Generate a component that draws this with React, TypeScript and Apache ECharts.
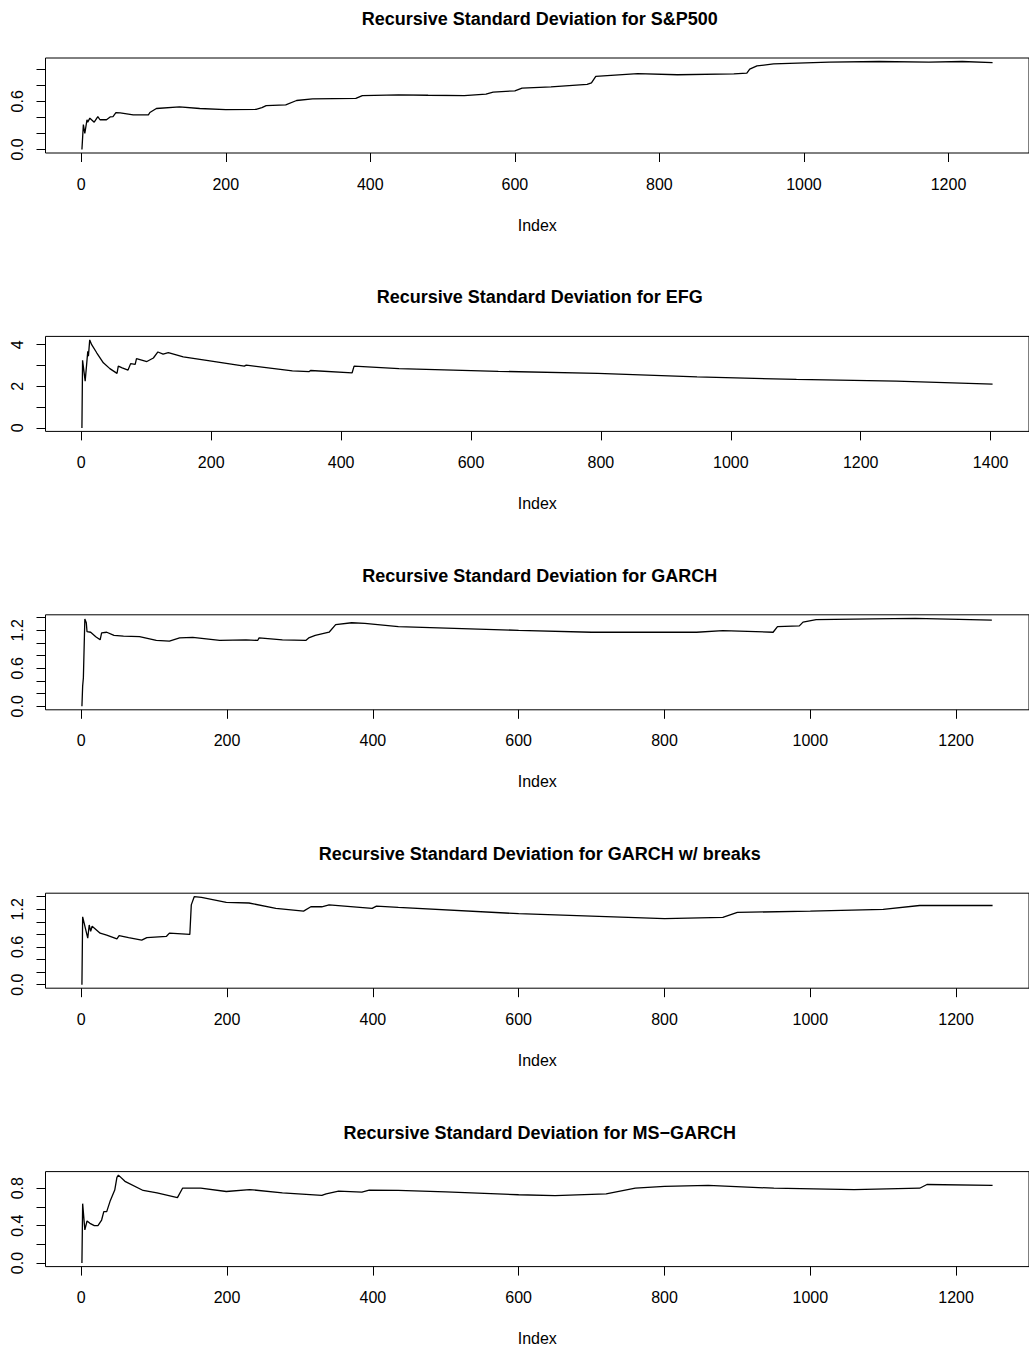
import React, { useEffect, useRef } from "react";
import * as echarts from "echarts";

// ---------- data ----------
const titles = [
  "Recursive Standard Deviation for S&P500",
  "Recursive Standard Deviation for EFG",
  "Recursive Standard Deviation for GARCH",
  "Recursive Standard Deviation for GARCH w/ breaks",
  "Recursive Standard Deviation for MS\u2212GARCH",
];

const nObs = [1261, 1403, 1250, 1250, 1250];

const xTicksA = [0, 200, 400, 600, 800, 1000, 1200];
const xTicksB = [0, 200, 400, 600, 800, 1000, 1200, 1400];

const yTicks1 = [0, 0.2, 0.4, 0.6, 0.8, 1.0];
const yLabels1 = [0, 0.6];
const yTicks2 = [0, 1, 2, 3, 4];
const yLabels2 = [0, 2, 4];
const yTicks3 = [0, 0.2, 0.4, 0.6, 0.8, 1.0, 1.2, 1.4];
const yLabels3 = [0, 0.6, 1.2];
const yTicks4 = [0, 0.2, 0.4, 0.6, 0.8, 1.0, 1.2, 1.4];
const yLabels4 = [0, 0.6, 1.2];
const yTicks5 = [0, 0.2, 0.4, 0.6, 0.8];
const yLabels5 = [0, 0.4, 0.8];

// S&P500
const spIdx = [1, 3, 5, 8, 9, 12, 18, 23, 26, 35, 40, 44, 48, 54, 72, 93, 95, 104, 136, 164, 200, 242, 250, 256, 283, 298, 320, 380, 389, 439, 480, 530, 560, 570, 600, 610, 650, 700, 706, 712, 770, 825, 903, 921, 925, 935, 958, 1035, 1104, 1173, 1219, 1261];
const spVal = [0, 0.31, 0.2, 0.37, 0.34, 0.39, 0.34, 0.41, 0.37, 0.37, 0.405, 0.41, 0.46, 0.455, 0.43, 0.43, 0.46, 0.51, 0.53, 0.51, 0.495, 0.5, 0.52, 0.545, 0.556, 0.61, 0.63, 0.635, 0.67, 0.68, 0.675, 0.67, 0.69, 0.715, 0.73, 0.765, 0.78, 0.81, 0.83, 0.91, 0.945, 0.93, 0.94, 0.95, 1.0, 1.04, 1.066, 1.087, 1.095, 1.087, 1.095, 1.082];

// EFG
const efgIdx = [1, 2, 6, 10, 11, 13, 16, 24, 34, 44, 55, 57, 63, 72, 76, 83, 85, 101, 111, 118, 126, 134, 157, 198, 251, 254, 325, 351, 353, 417, 420, 489, 642, 795, 948, 1101, 1255, 1403];
const efgVal = [0, 3.25, 2.25, 3.68, 3.45, 4.23, 4.0, 3.6, 3.13, 2.85, 2.62, 2.97, 2.89, 2.78, 3.09, 3.05, 3.33, 3.19, 3.36, 3.65, 3.55, 3.62, 3.41, 3.22, 2.97, 3.02, 2.74, 2.71, 2.76, 2.65, 2.97, 2.85, 2.72, 2.62, 2.45, 2.33, 2.25, 2.1];

// GARCH
const gIdx = [1, 2, 3, 5, 7, 8, 13, 20, 26, 28, 35, 45, 58, 80, 103, 121, 135, 153, 190, 226, 242, 244, 276, 308, 312, 321, 340, 349, 371, 389, 435, 600, 700, 844, 880, 949, 955, 985, 990, 1008, 1085, 1144, 1249];
const gVal = [0, 0.32, 0.45, 1.38, 1.32, 1.18, 1.17, 1.1, 1.05, 1.16, 1.17, 1.12, 1.11, 1.1, 1.04, 1.03, 1.08, 1.09, 1.04, 1.05, 1.04, 1.08, 1.05, 1.04, 1.08, 1.12, 1.17, 1.29, 1.32, 1.31, 1.26, 1.2, 1.17, 1.17, 1.195, 1.17, 1.26, 1.27, 1.33, 1.37, 1.38, 1.39, 1.36];

// GARCH w/ breaks
const gbIdx = [1, 2, 9, 11, 13, 15, 26, 35, 49, 52, 65, 83, 90, 117, 121, 149, 151, 155, 165, 199, 230, 267, 305, 315, 330, 340, 399, 405, 435, 600, 800, 880, 900, 1000, 1100, 1150, 1250];
const gbVal = [0, 1.08, 0.74, 0.95, 0.85, 0.93, 0.82, 0.79, 0.73, 0.78, 0.75, 0.71, 0.75, 0.77, 0.82, 0.8, 1.27, 1.4, 1.39, 1.31, 1.3, 1.215, 1.17, 1.24, 1.24, 1.27, 1.215, 1.25, 1.23, 1.13, 1.05, 1.07, 1.15, 1.17, 1.2, 1.26, 1.26];

// MS-GARCH
const msIdx = [1, 2, 5, 8, 12, 18, 23, 28, 31, 35, 40, 46, 49, 51, 60, 85, 104, 132, 139, 164, 199, 231, 276, 330, 336, 353, 385, 395, 435, 500, 600, 650, 720, 760, 800, 860, 950, 1060, 1150, 1160, 1250];
const msVal = [0, 0.635, 0.355, 0.45, 0.425, 0.4, 0.4, 0.46, 0.55, 0.55, 0.67, 0.78, 0.916, 0.94, 0.874, 0.776, 0.75, 0.7, 0.8, 0.8, 0.765, 0.786, 0.75, 0.723, 0.74, 0.77, 0.758, 0.78, 0.776, 0.76, 0.73, 0.72, 0.74, 0.8, 0.82, 0.83, 0.8, 0.785, 0.8, 0.84, 0.83];

const panels = [
  { idx: spIdx, val: spVal, xTicks: xTicksA, yTicks: yTicks1, yLabels: yLabels1, dec: 1 },
  { idx: efgIdx, val: efgVal, xTicks: xTicksB, yTicks: yTicks2, yLabels: yLabels2, dec: 0 },
  { idx: gIdx, val: gVal, xTicks: xTicksA, yTicks: yTicks3, yLabels: yLabels3, dec: 1 },
  { idx: gbIdx, val: gbVal, xTicks: xTicksA, yTicks: yTicks4, yLabels: yLabels4, dec: 1 },
  { idx: msIdx, val: msVal, xTicks: xTicksA, yTicks: yTicks5, yLabels: yLabels5, dec: 1 },
];

const FONT = "'Liberation Sans', Arial, Helvetica, sans-serif";
const GRID_LEFT = 45.5;
const GRID_W = 988.5;
const GRID_TOP0 = 58;
const GRID_STEP = 278.4;
const GRID_H = 95;

function buildOption() {
  const grid: any[] = [];
  const xAxis: any[] = [];
  const yAxis: any[] = [];
  const series: any[] = [];
  const graphic: any[] = [];

  panels.forEach((p, k) => {
    const top = GRID_TOP0 + k * GRID_STEP;
    const n = nObs[k];
    const ymax = Math.max(...p.val);
    const ymin = Math.min(...p.val);
    const yr = ymax - ymin;
    grid.push({
      left: GRID_LEFT,
      top,
      width: GRID_W,
      height: GRID_H,
      show: true,
      borderColor: "#000",
      borderWidth: 1,
      backgroundColor: "transparent",
    });
    xAxis.push({
      type: "value",
      gridIndex: k,
      position: "bottom",
      min: 1 - 0.04 * (n - 1),
      max: n + 0.04 * (n - 1),
      axisLine: { show: false, onZero: false },
      splitLine: { show: false },
      axisTick: {
        show: true,
        inside: false,
        length: 9,
        lineStyle: { color: "#000", width: 1 },
        customValues: p.xTicks,
      },
      axisLabel: {
        show: true,
        customValues: p.xTicks,
        color: "#000",
        fontSize: 16,
        fontFamily: FONT,
        margin: 23,
        formatter: (v: number) => String(v),
      },
      name: "Index",
      nameLocation: "middle",
      nameGap: 64,
      nameTextStyle: { color: "#000", fontSize: 16, fontFamily: FONT },
    });
    yAxis.push({
      type: "value",
      gridIndex: k,
      position: "left",
      min: ymin - 0.04 * yr,
      max: ymax + 0.04 * yr,
      axisLine: { show: false, onZero: false },
      splitLine: { show: false },
      axisTick: {
        show: true,
        inside: false,
        length: 9,
        lineStyle: { color: "#000", width: 1 },
        customValues: p.yTicks,
      },
      axisLabel: {
        show: true,
        customValues: p.yLabels,
        rotate: 90,
        color: "#000",
        fontSize: 16,
        fontFamily: FONT,
        margin: 20,
        formatter: (v: number) => v.toFixed(p.dec),
      },
    });
    series.push({
      type: "line",
      xAxisIndex: k,
      yAxisIndex: k,
      data: p.idx.map((x, i) => [x, p.val[i]]),
      showSymbol: false,
      symbol: "none",
      lineStyle: { color: "#000", width: 1.3 },
      clip: false,
    });
    graphic.push({
      type: "text",
      x: GRID_LEFT + GRID_W / 2,
      y: top - 39,
      style: {
        text: titles[k],
        textAlign: "center",
        textVerticalAlign: "middle",
        fontSize: 18,
        fontWeight: "bold",
        fontFamily: FONT,
        fill: "#000",
      },
    });
  });

  return {
    animation: false,
    backgroundColor: "#fff",
    grid,
    xAxis,
    yAxis,
    series,
    graphic,
  };
}

export default function App() {
  const ref = useRef<HTMLDivElement>(null);
  useEffect(() => {
    if (!ref.current) return;
    const chart = echarts.init(ref.current, undefined, { renderer: "svg" });
    chart.setOption(buildOption() as any);
    return () => chart.dispose();
  }, []);
  return (
    <div
      ref={ref}
      style={{ position: "absolute", left: 0, top: 0, width: 1029, height: 1349, background: "#fff" }}
    />
  );
}
